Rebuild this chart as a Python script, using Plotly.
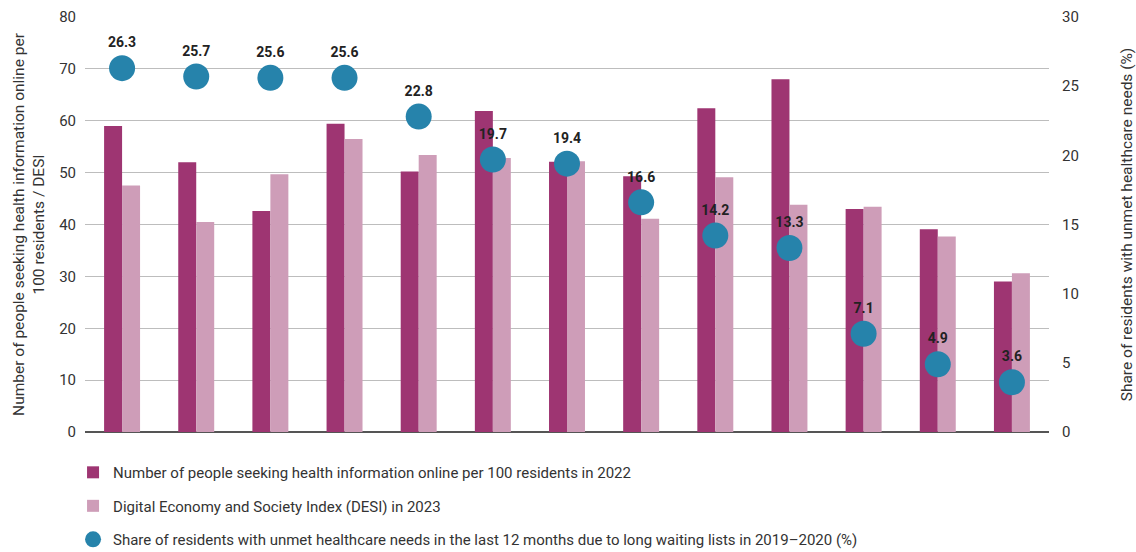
import plotly.graph_objects as go

categories = ["C1", "C2", "C3", "C4", "C5", "C6", "C7", "C8", "C9", "C10", "C11", "C12", "C13"]
seeking_info_2022 = [59.0, 52.0, 42.6, 59.4, 50.2, 61.9, 52.1, 49.3, 62.4, 68.0, 43.0, 39.1, 29.0]
desi_2023 = [47.5, 40.5, 49.7, 56.5, 53.4, 52.8, 52.2, 41.1, 49.1, 43.8, 43.4, 37.7, 30.6]
unmet_needs = [26.3, 25.7, 25.6, 25.6, 22.8, 19.7, 19.4, 16.6, 14.2, 13.3, 7.1, 4.9, 3.6]

name_bar1 = "Number of people seeking health information online per 100 residents in 2022"
name_bar2 = "Digital Economy and Society Index (DESI) in 2023"
name_dots = "Share of residents with unmet healthcare needs in the last 12 months due to long waiting lists in 2019–2020 (%)"

FONT = "Roboto"
DARK = "#9E3572"
LIGHT = "#CE9DB8"
BLUE = "#2683AB"

fig = go.Figure()
fig.add_trace(go.Bar(x=categories, y=seeking_info_2022, name=name_bar1,
                     marker=dict(color=DARK, line=dict(width=0)), legendgroup="a"))
fig.add_trace(go.Bar(x=categories, y=desi_2023, name=name_bar2,
                     marker=dict(color=LIGHT, line=dict(width=0)), legendgroup="b"))
fig.add_trace(go.Scatter(x=categories, y=unmet_needs, name=name_dots, yaxis="y2",
                         mode="markers+text", text=[f"{v:.1f}" for v in unmet_needs],
                         textposition="top center",
                         textfont=dict(family=FONT, size=14, color="#222222", weight="bold"),
                         marker=dict(color=BLUE, size=26, line=dict(width=0)),
                         legendgroup="c"))

fig.update_layout(
    width=1136, height=552,
    margin=dict(l=85, r=87, t=17, b=120, autoexpand=False),
    paper_bgcolor="white", plot_bgcolor="white",
    font=dict(family=FONT, color="#333333"),
    barmode="group", bargap=0.515, bargroupgap=0,
    showlegend=True,
    legend=dict(x=-0.0124, xanchor="left", y=-0.058, yanchor="top",
                orientation="v", tracegroupgap=11,
                font=dict(family=FONT, size=15, color="#333333"),
                bgcolor="rgba(0,0,0,0)"),
    xaxis=dict(showticklabels=False, showgrid=False, zeroline=False, showline=False,
               ticks="", automargin=False, range=[-0.5, len(categories) - 0.5]),
    yaxis=dict(range=[0, 80], dtick=10, showgrid=True, gridcolor="#BDBDBD", gridwidth=1,
               zeroline=True, zerolinecolor="#555555", zerolinewidth=1.5,
               automargin=False,
               tickfont=dict(family=FONT, size=15, color="#333333"),
               ticklabelstandoff=8,
               title=dict(text="Number of people seeking health information online per<br>100 residents / DESI",
                          font=dict(family=FONT, size=15.5, color="#333333"), standoff=10)),
    yaxis2=dict(range=[0, 30], dtick=5, overlaying="y", side="right", showgrid=False,
                zeroline=False, automargin=False,
                tickfont=dict(family=FONT, size=15, color="#333333"),
                ticklabelstandoff=12,
                title=dict(text="Share of residents with unmet healthcare needs (%)",
                           font=dict(family=FONT, size=15.5, color="#333333"), standoff=44)),
)

fig.write_html("out.html", config={"displayModeBar": False},
               post_script="document.body.style.margin='0px';document.body.style.padding='0px';")
